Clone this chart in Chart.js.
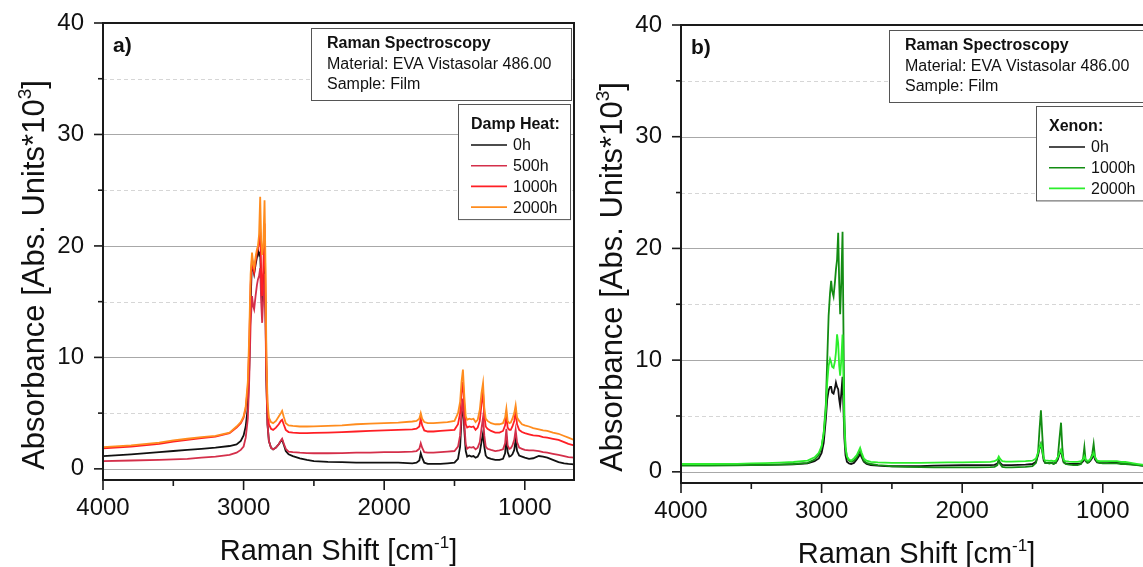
<!DOCTYPE html>
<html>
<head>
<meta charset="utf-8">
<script src="https://cdn.jsdelivr.net/npm/chart.js@4.4.0/dist/chart.umd.min.js"></script>
<style>
  html, body { margin: 0; padding: 0; background: #fff; overflow: hidden; width: 1143px; height: 567px; }
  .panel { position: absolute; top: 0; }
  #panelA { left: 0; width: 590px; height: 567px; }
  #panelB { left: 580px; width: 640px; height: 567px; }
</style>
</head>
<body>
<div class="panel" id="panelA"><canvas id="dampHeatChart" width="590" height="567"></canvas></div>
<div class="panel" id="panelB"><canvas id="xenonChart" width="640" height="567"></canvas></div>
<script>
// Raman shift grid [cm^-1], shared by every spectrum
const wavenumbers = [
  4000, 3800, 3600, 3500, 3400, 3300, 3200, 3100, 3050, 3020, 3000,
  2985, 2970, 2960, 2950, 2940, 2932, 2925, 2915, 2905, 2898,
  2890, 2882, 2875, 2868, 2860, 2851, 2844, 2838, 2830, 2820,
  2805, 2790, 2770, 2750, 2735, 2726, 2715, 2700, 2680, 2650,
  2600, 2550, 2500, 2400, 2300, 2200, 2100, 2000, 1900, 1800,
  1770, 1750, 1740, 1730, 1715, 1690, 1650, 1600, 1550, 1500,
  1475, 1460, 1450, 1440, 1430, 1420, 1410, 1395, 1380, 1365,
  1350, 1335, 1320, 1308, 1297, 1288, 1278, 1265, 1240, 1210,
  1180, 1155, 1140, 1131, 1122, 1110, 1100, 1088, 1075, 1065,
  1055, 1040, 1020, 1000, 970, 940, 900, 870, 840, 800,
  760, 720, 690, 650
];

// Damp heat series (absorbance, abs. units * 10^3)
const dampHeatLabels = ['0h', '500h', '1000h', '2000h'];
const dampHeat0h = [
  1.15, 1.3, 1.5, 1.6, 1.7, 1.8, 1.9, 2.05, 2.2, 2.5, 3.0,
  3.8, 5.5, 9, 15, 18.8, 18.0, 17.5, 18.3, 19.0, 19.6,
  19.2, 19.4, 16.5, 14.5, 16.5, 18.5, 14, 8, 4, 2.5,
  1.9, 1.75, 1.9, 2.2, 2.5, 2.6, 2.2, 1.6, 1.3, 1.15,
  0.95, 0.8, 0.7, 0.62, 0.6, 0.55, 0.55, 0.55, 0.55, 0.5,
  0.55, 0.75, 1.4, 1.0, 0.55, 0.45, 0.45, 0.45, 0.5, 0.55,
  0.9, 2.0, 4.5, 6.0, 3.5, 1.6, 1.1, 1.2, 1.1, 1.15,
  1.0, 1.1, 1.5, 2.4, 3.2, 2.0, 1.2, 1.0, 0.9, 0.8,
  0.8, 0.9, 1.4, 2.9, 1.5, 1.1, 1.15, 1.3, 1.7, 2.6,
  1.6, 1.2, 1.1, 1.0, 0.9, 0.95, 1.15, 1.1, 1.0, 0.8,
  0.6, 0.5, 0.45, 0.4
];
const dampHeat500h = [
  0.7, 0.75, 0.8, 0.85, 0.9, 1.0, 1.1, 1.25, 1.45, 1.7, 2.0,
  2.8, 4.5, 8, 13, 15.5, 14.6, 14.3, 15.5, 16.5, 17.0,
  17.3, 18.0, 15.0, 13.1, 15.5, 17.5, 13, 7.5, 4, 2.5,
  1.9, 1.75, 1.9, 2.2, 2.55, 2.7, 2.3, 1.8, 1.55, 1.5,
  1.45, 1.42, 1.4, 1.4, 1.42, 1.45, 1.45, 1.5, 1.5, 1.55,
  1.6, 1.8, 2.3, 1.9, 1.5, 1.45, 1.45, 1.5, 1.55, 1.6,
  2.0, 3.0, 5.0, 6.3, 4.0, 2.2, 1.8, 1.95, 1.9, 1.95,
  1.75, 1.9, 2.4, 3.6, 4.6, 3.0, 2.0, 1.8, 1.7, 1.6,
  1.65, 1.75, 2.3, 3.6, 2.1, 1.8, 1.85, 2.1, 2.6, 3.5,
  2.4, 1.9, 1.8, 1.7, 1.65, 1.65, 1.6, 1.5, 1.45, 1.35,
  1.25, 1.15, 1.05, 1.0
];
const dampHeat1000h = [
  1.85, 2.0, 2.25, 2.45, 2.6, 2.75, 2.9, 3.2, 3.7, 4.1, 4.6,
  5.4, 7.3, 11, 16.5, 19.0, 18.0, 17.6, 18.6, 19.4, 19.8,
  20.2, 21.5, 17.5, 15.5, 18, 22, 16, 9.5, 5.5, 4.0,
  3.6, 3.5, 3.7, 4.0, 4.3, 4.4, 4.0, 3.5, 3.3, 3.25,
  3.2, 3.2, 3.22, 3.25, 3.3, 3.35, 3.4, 3.45, 3.5, 3.55,
  3.6, 3.8, 4.5, 3.9, 3.45, 3.35, 3.35, 3.4, 3.45, 3.5,
  4.0, 5.0, 6.8, 7.8, 5.6, 4.0, 3.7, 3.8, 3.75, 3.8,
  3.5, 3.7, 4.3, 5.8, 6.9, 4.8, 3.8, 3.6, 3.4, 3.25,
  3.25, 3.4, 3.9, 4.9, 3.7, 3.5, 3.5, 3.8, 4.3, 5.2,
  4.0, 3.5, 3.3, 3.2, 3.1, 3.0, 2.95, 2.85, 2.8, 2.7,
  2.6, 2.4, 2.25, 2.1
];
const dampHeat2000h = [
  1.95, 2.1, 2.35, 2.55, 2.7, 2.85, 2.95, 3.25, 3.8, 4.2, 4.7,
  5.6, 7.8, 12, 17.5, 19.4, 18.3, 18.0, 19.0, 19.7, 20.0,
  21.0, 24.4, 20.5, 19.2, 20, 24.1, 18, 10.5, 6, 4.6,
  4.2, 4.1, 4.3, 4.7, 5.0, 5.2, 4.7, 4.1, 3.9, 3.85,
  3.8, 3.8, 3.82, 3.85, 3.9, 4.0, 4.05, 4.1, 4.15, 4.25,
  4.3, 4.5, 5.0, 4.5, 4.2, 4.1, 4.1, 4.15, 4.2, 4.3,
  5.0, 6.0, 7.8, 8.9, 6.5, 4.7, 4.4, 4.5, 4.45, 4.5,
  4.2, 4.4, 5.3, 6.8, 7.7, 5.5, 4.5, 4.3, 4.1, 4.0,
  4.0, 4.1, 4.6, 5.4, 4.3, 4.1, 4.15, 4.5, 5.0, 5.7,
  4.6, 4.3, 4.0, 3.9, 3.8, 3.65, 3.55, 3.45, 3.4, 3.25,
  3.15, 2.95, 2.8, 2.6
];

// Xenon series (absorbance, abs. units * 10^3)
const xenonLabels = ['0h', '1000h', '2000h'];
const xenon0h = [
  0.6, 0.6, 0.6, 0.62, 0.63, 0.65, 0.68, 0.75, 0.95, 1.2, 1.7,
  2.6, 4.7, 6.5, 7.3, 7.6, 7.6, 7.1, 7.0, 7.5, 8.0,
  7.6, 7.4, 6.5, 5.9, 7.0, 8.5, 5.5, 3, 1.5, 0.9,
  0.75, 0.7, 0.8, 1.1, 1.4, 1.6, 1.3, 0.9, 0.7, 0.6,
  0.55, 0.52, 0.5, 0.5, 0.5, 0.55, 0.58, 0.6, 0.6, 0.6,
  0.62, 0.75, 1.0, 0.8, 0.62, 0.6, 0.6, 0.62, 0.65, 0.7,
  0.9, 1.5, 2.1, 2.5, 1.8, 1.0, 0.8, 0.8, 0.78, 0.8,
  0.75, 0.8, 1.1, 1.6, 1.9, 1.3, 0.85, 0.75, 0.72, 0.7,
  0.7, 0.75, 0.95, 1.3, 0.95, 0.85, 0.85, 1.0, 1.25, 1.6,
  1.1, 0.85, 0.8, 0.78, 0.78, 0.8, 0.8, 0.78, 0.75, 0.7,
  0.62, 0.55, 0.52, 0.5
];
const xenon1000h = [
  0.55, 0.55, 0.58, 0.6, 0.62, 0.65, 0.7, 0.8, 1.1, 1.5, 2.2,
  3.5, 6.0, 10, 14, 16, 17.1, 16.2, 15.7, 17.0, 18.1,
  19, 21.4, 17, 14.1, 17, 21.5, 12, 5, 2.2, 1.3,
  1.0, 0.9, 1.0, 1.3, 1.7, 1.9, 1.5, 1.0, 0.8, 0.7,
  0.6, 0.55, 0.5, 0.45, 0.42, 0.4, 0.4, 0.4, 0.4, 0.42,
  0.45, 0.6, 1.1, 0.7, 0.45, 0.4, 0.4, 0.42, 0.45, 0.5,
  0.8, 1.8, 3.8, 5.5, 3.2, 1.2, 0.8, 0.8, 0.75, 0.8,
  0.7, 0.8, 1.3, 3.0, 4.4, 2.2, 0.9, 0.7, 0.65, 0.6,
  0.6, 0.7, 1.2, 2.2, 1.0, 0.8, 0.85, 1.1, 1.6, 2.5,
  1.3, 0.9, 0.8, 0.75, 0.75, 0.75, 0.75, 0.7, 0.7, 0.65,
  0.6, 0.55, 0.5, 0.5
];
const xenon2000h = [
  0.7, 0.7, 0.72, 0.75, 0.78, 0.82, 0.88, 1.0, 1.3, 1.7, 2.3,
  3.4, 5.5, 8, 9.5, 10.1, 9.8, 9.4, 9.3, 9.9, 10.7,
  12.3, 11.5, 9.5, 8.6, 10, 12.3, 8, 4, 2.2, 1.4,
  1.1, 1.0, 1.2, 1.5, 1.9, 2.15, 1.7, 1.2, 1.0, 0.9,
  0.85, 0.82, 0.8, 0.8, 0.8, 0.82, 0.85, 0.85, 0.87, 0.9,
  0.95, 1.1, 1.37, 1.15, 0.95, 0.92, 0.92, 0.93, 0.95, 1.0,
  1.2, 1.7, 2.2, 2.5, 1.9, 1.2, 1.0, 1.0, 0.98, 1.0,
  0.95, 1.0, 1.3, 1.7, 2.0, 1.5, 1.05, 0.95, 0.92, 0.9,
  0.9, 0.95, 1.1, 1.4, 1.1, 1.0, 1.0, 1.15, 1.4, 1.7,
  1.3, 1.0, 0.95, 0.95, 0.95, 0.95, 0.95, 0.9, 0.88, 0.8,
  0.72, 0.65, 0.6, 0.58
];

// Axis ticks
const yMajorTicks = [0, 10, 20, 30, 40];
const yMinorTicks = [5, 15, 25, 35];
const xMajorTicks = [4000, 3000, 2000, 1000];
const xMinorTicks = [3500, 2500, 1500];

// Text blocks
const infoLines = ['Raman Spectroscopy', 'Material: EVA Vistasolar 486.00', 'Sample: Film'];
const xTitleParts = [{ t: 'Raman Shift [cm' }, { t: '-1', sup: true }, { t: ']' }];
const yTitleParts = [{ t: 'Absorbance [Abs. Units*10' }, { t: '3', sup: true }, { t: ']' }];

const FONT = '"Liberation Sans", Arial, Helvetica, sans-serif';
const INK = '#111111';

// Draws a run of text pieces (some raised as superscripts) centred on cx, baseline at by
function drawRichText(ctx, parts, size, cx, by) {
  const supSize = Math.round(size * 0.6);
  let total = 0;
  const widths = parts.map(p => {
    ctx.font = (p.sup ? supSize : size) + 'px ' + FONT;
    const w = ctx.measureText(p.t).width;
    total += w;
    return w;
  });
  let x = cx - total / 2;
  ctx.textAlign = 'left';
  ctx.textBaseline = 'alphabetic';
  parts.forEach((p, i) => {
    ctx.font = (p.sup ? supSize : size) + 'px ' + FONT;
    ctx.fillText(p.t, x, p.sup ? by - size * 0.42 : by);
    x += widths[i];
  });
}

// Gridlines, frame, tick marks, info box, legend and axis titles of one panel
const panelDecor = {
  id: 'panelDecor',
  beforeDatasetsDraw(chart) {
    const { ctx, chartArea: a, scales: { y } } = chart;
    ctx.save();
    ctx.lineWidth = 1;
    yMinorTicks.forEach(v => {
      const py = Math.round(y.getPixelForValue(v)) + 0.5;
      ctx.strokeStyle = '#d6d6d6';
      ctx.setLineDash([4, 3]);
      ctx.beginPath(); ctx.moveTo(a.left, py); ctx.lineTo(a.right, py); ctx.stroke();
    });
    ctx.setLineDash([]);
    yMajorTicks.forEach(v => {
      if (v >= 40) return;
      const py = Math.round(y.getPixelForValue(v)) + 0.5;
      ctx.strokeStyle = '#a8a8a8';
      ctx.beginPath(); ctx.moveTo(a.left, py); ctx.lineTo(a.right, py); ctx.stroke();
    });
    ctx.restore();
  },
  afterDatasetsDraw(chart, args, opts) {
    const { ctx, chartArea: a, scales: { x, y } } = chart;
    ctx.save();

    // frame
    ctx.strokeStyle = '#1a1a1a';
    ctx.lineWidth = 2;
    ctx.strokeRect(a.left, a.top, a.right - a.left, a.bottom - a.top);

    // tick marks
    ctx.lineWidth = 1.6;
    const yTick = (v, len) => {
      const py = y.getPixelForValue(v);
      ctx.beginPath(); ctx.moveTo(a.left - len, py); ctx.lineTo(a.left, py); ctx.stroke();
    };
    yMajorTicks.forEach(v => yTick(v, 9));
    yMinorTicks.forEach(v => yTick(v, 5));
    const xTick = (v, len) => {
      const px = x.getPixelForValue(v);
      ctx.beginPath(); ctx.moveTo(px, a.bottom); ctx.lineTo(px, a.bottom + len); ctx.stroke();
    };
    xMajorTicks.forEach(v => xTick(v, 10));
    xMinorTicks.forEach(v => xTick(v, 6));

    // panel letter
    ctx.fillStyle = INK;
    ctx.font = 'bold 21px ' + FONT;
    ctx.textAlign = 'left';
    ctx.textBaseline = 'middle';
    ctx.fillText(opts.letter, a.left + 10, a.top + 23);

    // info box
    const ix = a.left + 208, iy = a.top + 5;
    ctx.fillStyle = '#ffffff';
    ctx.fillRect(ix, iy, 260, 72);
    ctx.strokeStyle = '#555555';
    ctx.lineWidth = 1;
    ctx.strokeRect(ix + 0.5, iy + 0.5, 260, 72);
    ctx.fillStyle = INK;
    infoLines.forEach((line, i) => {
      ctx.font = (i === 0 ? 'bold ' : '') + '16px ' + FONT;
      ctx.fillText(line, ix + 16, iy + 16 + i * 20.5);
    });

    // legend box
    const sets = chart.data.datasets;
    const lx = a.right - 116, ly = a.top + 81;
    const lh = 41 + (sets.length - 1) * 20.7 + 12;
    ctx.fillStyle = '#ffffff';
    ctx.fillRect(lx, ly, 112, lh);
    ctx.strokeStyle = '#555555';
    ctx.strokeRect(lx + 0.5, ly + 0.5, 112, lh);
    ctx.fillStyle = INK;
    ctx.font = 'bold 16px ' + FONT;
    ctx.fillText(opts.legendTitle, lx + 13, ly + 21);
    ctx.font = '16px ' + FONT;
    sets.forEach((ds, i) => {
      const ry = ly + 41 + i * 20.7;
      ctx.strokeStyle = ds.borderColor;
      ctx.lineWidth = 1.6;
      ctx.beginPath(); ctx.moveTo(lx + 13, ry); ctx.lineTo(lx + 49, ry); ctx.stroke();
      ctx.fillStyle = INK;
      ctx.fillText(ds.label, lx + 55, ry + 1);
    });

    // axis titles
    ctx.fillStyle = INK;
    drawRichText(ctx, xTitleParts, 29, (a.left + a.right) / 2, a.bottom + 80);
    ctx.translate(a.left - 59, a.top + 252);
    ctx.rotate(-Math.PI / 2);
    drawRichText(ctx, yTitleParts, 31, 0, 0);
    ctx.restore();
  }
};

function buildPanel(canvasId, setup) {
  const n = setup.series.length;
  const datasets = setup.series.map((values, i) => ({
    label: setup.labels[i],
    data: wavenumbers.map((w, k) => ({ x: w, y: values[k] })),
    borderColor: setup.colors[i],
    borderWidth: 1.8,
    pointRadius: 0,
    tension: 0,
    fill: false,
    order: n - i
  }));
  const tickFont = { family: FONT, size: 24 };
  return new Chart(document.getElementById(canvasId), {
    type: 'line',
    data: { datasets },
    options: {
      responsive: false,
      animation: false,
      devicePixelRatio: 1,
      layout: { padding: { left: 0, top: setup.top, right: setup.right, bottom: 0 } },
      plugins: {
        legend: { display: false },
        tooltip: { enabled: false },
        panelDecor: { letter: setup.letter, legendTitle: setup.legendTitle }
      },
      scales: {
        x: {
          type: 'linear',
          reverse: true,
          min: 650,
          max: 4000,
          afterBuildTicks(s) { s.ticks = xMajorTicks.map(v => ({ value: v })); },
          afterFit(s) { s.height = setup.xAxisHeight; s.paddingLeft = 0; s.paddingRight = 0; },
          ticks: {
            autoSkip: false, maxRotation: 0, padding: 4,
            color: INK, font: tickFont,
            callback: v => String(v)
          },
          grid: { drawOnChartArea: false, tickLength: 10, color: 'rgba(0,0,0,0)' },
          border: { display: false }
        },
        y: {
          min: -1,
          max: 40,
          afterBuildTicks(s) { s.ticks = yMajorTicks.map(v => ({ value: v })); },
          afterFit(s) { s.width = setup.yAxisWidth; s.paddingTop = 0; s.paddingBottom = 0; },
          ticks: {
            autoSkip: false, padding: 9,
            color: INK, font: tickFont,
            callback: v => String(v)
          },
          grid: { drawOnChartArea: false, tickLength: 10, color: 'rgba(0,0,0,0)' },
          border: { display: false }
        }
      }
    },
    plugins: [panelDecor]
  });
}

buildPanel('dampHeatChart', {
  letter: 'a)',
  legendTitle: 'Damp Heat:',
  labels: dampHeatLabels,
  series: [dampHeat0h, dampHeat500h, dampHeat1000h, dampHeat2000h],
  colors: ['#111111', '#d42f4a', '#ff1f25', '#ff8c1e'],
  top: 23, right: 16, yAxisWidth: 103, xAxisHeight: 87
});

buildPanel('xenonChart', {
  letter: 'b)',
  legendTitle: 'Xenon:',
  labels: xenonLabels,
  series: [xenon0h, xenon1000h, xenon2000h],
  colors: ['#111111', '#138c13', '#2cee2c'],
  top: 25, right: 68, yAxisWidth: 101, xAxisHeight: 84
});
</script>
</body>
</html>
